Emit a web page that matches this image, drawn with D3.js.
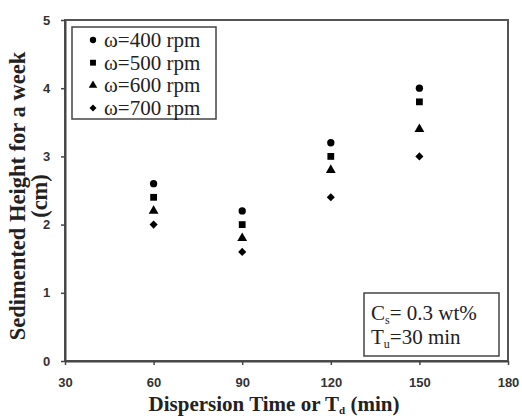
<!DOCTYPE html>
<html><head><meta charset="utf-8">
<script src="https://cdn.jsdelivr.net/npm/d3@7"></script>
<style>body{margin:0;background:#fff;}</style>
</head><body>
<script>
const times = [60, 90, 120, 150];
const rpm400 = [2.6, 2.2, 3.2, 4.0];
const rpm500 = [2.4, 2.0, 3.0, 3.8];
const rpm600 = [2.2, 1.8, 2.8, 3.4];
const rpm700 = [2.0, 1.6, 2.4, 3.0];
const seriesNames = ["\u03c9=400 rpm", "\u03c9=500 rpm", "\u03c9=600 rpm", "\u03c9=700 rpm"];
const xTicks = [30, 60, 90, 120, 150, 180];
const yTicks = [0, 1, 2, 3, 4, 5];

const W = 522, H = 419;
const m = {left: 65, top: 20, right: 14, bottom: 58};
const svg = d3.select("body").append("svg").attr("width", W).attr("height", H);
const x = d3.scaleLinear().domain([30, 180]).range([m.left, W - m.right]);
const y = d3.scaleLinear().domain([0, 5]).range([H - m.bottom, m.top]);

const diamond = {draw(ctx, size) { const r = Math.sqrt(size) / 1.6; ctx.moveTo(0, -r); ctx.lineTo(r, 0); ctx.lineTo(0, r); ctx.lineTo(-r, 0); ctx.closePath(); }};
const shapes = [d3.symbolCircle, d3.symbolSquare, d3.symbolTriangle, diamond];
const sizes = [42, 46, 42, 42];
const all = [rpm400, rpm500, rpm600, rpm700];

// frame
svg.append("rect").attr("x", x(30)).attr("y", y(5)).attr("width", x(180) - x(30)).attr("height", y(0) - y(5))
  .attr("fill", "none").attr("stroke", "#555").attr("stroke-width", 2);

const fontTick = "'Liberation Sans', Arial, sans-serif";
const xAxis = svg.append("g").attr("transform", `translate(0,${y(0)})`)
  .call(d3.axisBottom(x).tickValues(xTicks).tickSize(4).tickSizeOuter(0).tickFormat(d3.format("d")));
const yAxis = svg.append("g").attr("transform", `translate(${x(30)},0)`)
  .call(d3.axisLeft(y).tickValues(yTicks).tickSize(4).tickSizeOuter(0).tickFormat(d3.format("d")));
[xAxis, yAxis].forEach(a => {
  a.select(".domain").attr("stroke", "#444").attr("stroke-width", 2);
  a.selectAll(".tick line").attr("stroke", "#444").attr("stroke-width", 1.5);
  a.selectAll(".tick text").attr("font-family", fontTick).attr("font-weight", "bold")
    .attr("font-size", 13).attr("fill", "#333");
});
xAxis.selectAll(".tick text").attr("dy", "1.45em");
yAxis.selectAll(".tick text").attr("dx", "-0.6em");

// points
all.forEach((vals, i) => {
  svg.append("g").selectAll("path").data(vals).join("path")
    .attr("d", d3.symbol().type(shapes[i]).size(sizes[i]))
    .attr("transform", (d, j) => `translate(${x(times[j])},${y(d)})`)
    .attr("fill", "#000");
});

const serif = "'Liberation Serif', 'Times New Roman', serif";

// legend
const lg = svg.append("g");
lg.append("rect").attr("x", 72).attr("y", 27).attr("width", 144).attr("height", 92)
  .attr("fill", "#fff").attr("stroke", "#444").attr("stroke-width", 1.5);
seriesNames.forEach((n, i) => {
  const cy = 40 + i * 22.7;
  lg.append("path").attr("d", d3.symbol().type(shapes[i]).size(sizes[i] * 0.75)())
    .attr("transform", `translate(93,${cy})`).attr("fill", "#000");
  lg.append("text").attr("x", 104).attr("y", cy + 7).text(n)
    .attr("font-family", serif).attr("font-size", 21).attr("fill", "#222");
});

// annotation box
const ab = svg.append("g");
ab.append("rect").attr("x", 364).attr("y", 293).attr("width", 135).attr("height", 63)
  .attr("fill", "#fff").attr("stroke", "#444").attr("stroke-width", 1.5);
const t1 = ab.append("text").attr("x", 371).attr("y", 320).attr("font-family", serif).attr("font-size", 21).attr("fill", "#222");
t1.append("tspan").text("C");
t1.append("tspan").text("s").attr("font-size", 12).attr("dy", 4);
t1.append("tspan").text("= 0.3 wt%").attr("dy", -4);
const t2 = ab.append("text").attr("x", 371).attr("y", 344).attr("font-family", serif).attr("font-size", 21).attr("fill", "#222");
t2.append("tspan").text("T");
t2.append("tspan").text("u").attr("font-size", 12).attr("dy", 4);
t2.append("tspan").text("=30 min").attr("dy", -4);

// axis titles
const xt = svg.append("text").attr("x", 274).attr("y", 411).attr("text-anchor", "middle")
  .attr("font-family", serif).attr("font-weight", "bold").attr("font-size", 21).attr("fill", "#222");
xt.append("tspan").text("Dispersion Time or T");
xt.append("tspan").text("d").attr("font-size", 11).attr("dy", 3);
xt.append("tspan").text(" (min)").attr("dy", -3);

const yt = svg.append("g").attr("transform", "translate(25,196) rotate(-90)");
yt.append("text").attr("text-anchor", "middle").text("Sedimented Height for a week")
  .attr("font-family", serif).attr("font-weight", "bold").attr("font-size", 22.5).attr("fill", "#222");
yt.append("text").attr("y", 22).attr("text-anchor", "middle").text("(cm)")
  .attr("font-family", serif).attr("font-weight", "bold").attr("font-size", 22.5).attr("fill", "#222");
</script>
</body></html>
